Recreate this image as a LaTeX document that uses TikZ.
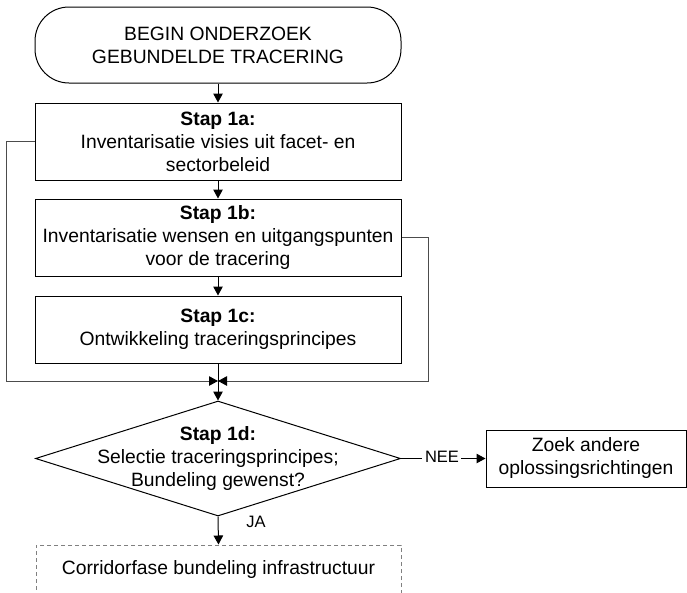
\documentclass[tikz,border=0pt]{standalone}
\usepackage{fontspec}
\setmainfont{Liberation Sans}
\usetikzlibrary{arrows.meta,shapes.geometric}
\begin{document}
\begin{tikzpicture}[x=1pt,y=-1pt,
  txt/.style={font=\fontsize{19.3}{23}\selectfont, align=center, inner sep=0pt},
  stepbox/.style={txt, draw, line width=1pt, minimum width=366pt},
  tip/.style={-{Triangle[length=9pt,width=9.5pt,color=black]}},
  arr/.style={line width=1pt, tip},
  loopline/.style={line width=1pt, draw=black!70, tip},
  small/.style={font=\fontsize{16.5}{20}\selectfont, inner sep=0pt}]
\useasboundingbox (0,0) rectangle (687,592);
\clip (0,0) rectangle (687,592);
% start terminal
\node[txt, draw, line width=1pt, rounded corners=34pt, minimum width=366pt, minimum height=76pt] (start) at (218,45) {BEGIN ONDERZOEK\\GEBUNDELDE TRACERING};
% steps
\node[stepbox, minimum height=77pt] (s1a) at (218,141.5) {\textbf{Stap 1a:}\\Inventarisatie visies uit facet- en\\sectorbeleid};
\node[stepbox, minimum height=77pt] (s1b) at (218,237.5) {\textbf{Stap 1b:}\\Inventarisatie wensen en uitgangspunten\\voor de tracering};
\node[stepbox, minimum height=67pt] (s1c) at (218,329.5) {\textbf{Stap 1c:}\\Ontwikkeling traceringsprincipes};
\coordinate (join) at (218,381);
% decision
\node[diamond, draw, line width=1pt, minimum width=365pt, minimum height=115pt, inner sep=0pt] (dec) at (218,458.5) {};
\node[txt] (dectext) at (dec.center) {\textbf{Stap 1d:}\\Selectie traceringsprincipes;\\Bundeling gewenst?};
\node[stepbox, minimum width=200pt, minimum height=57pt] (alt) at (586,458.5) {Zoek andere\\oplossingsrichtingen};
\node[txt, draw=black!50, dashed, dash pattern=on 4pt off 3pt, line width=1pt, minimum width=365pt, minimum height=48pt] (corr) at (218.5,569) {Corridorfase bundeling infrastructuur};
% labels
\node[small] (nee) at (442,457) {NEE};
\node[small] (ja) at (256,521.5) {JA};
% connectors
\draw[arr] (start) -- (s1a);
\draw[arr] (s1a) -- (s1b);
\draw[arr] (s1b) -- (s1c);
\draw[arr] (s1c) -- (dec.north);
\draw[loopline] (s1a.west) -- ++(-28,0) |- (join);
\draw[loopline] (s1b.east) -- ++(27,0) |- (join);
\draw[line width=1pt] (dec.east) -- ([xshift=-3pt]nee.west |- dec.east);
\draw[arr] ([xshift=2pt]nee.east |- alt.west) -- (alt.west);
\draw[arr] (dec.south) -- (corr.north);
\end{tikzpicture}
\end{document}
